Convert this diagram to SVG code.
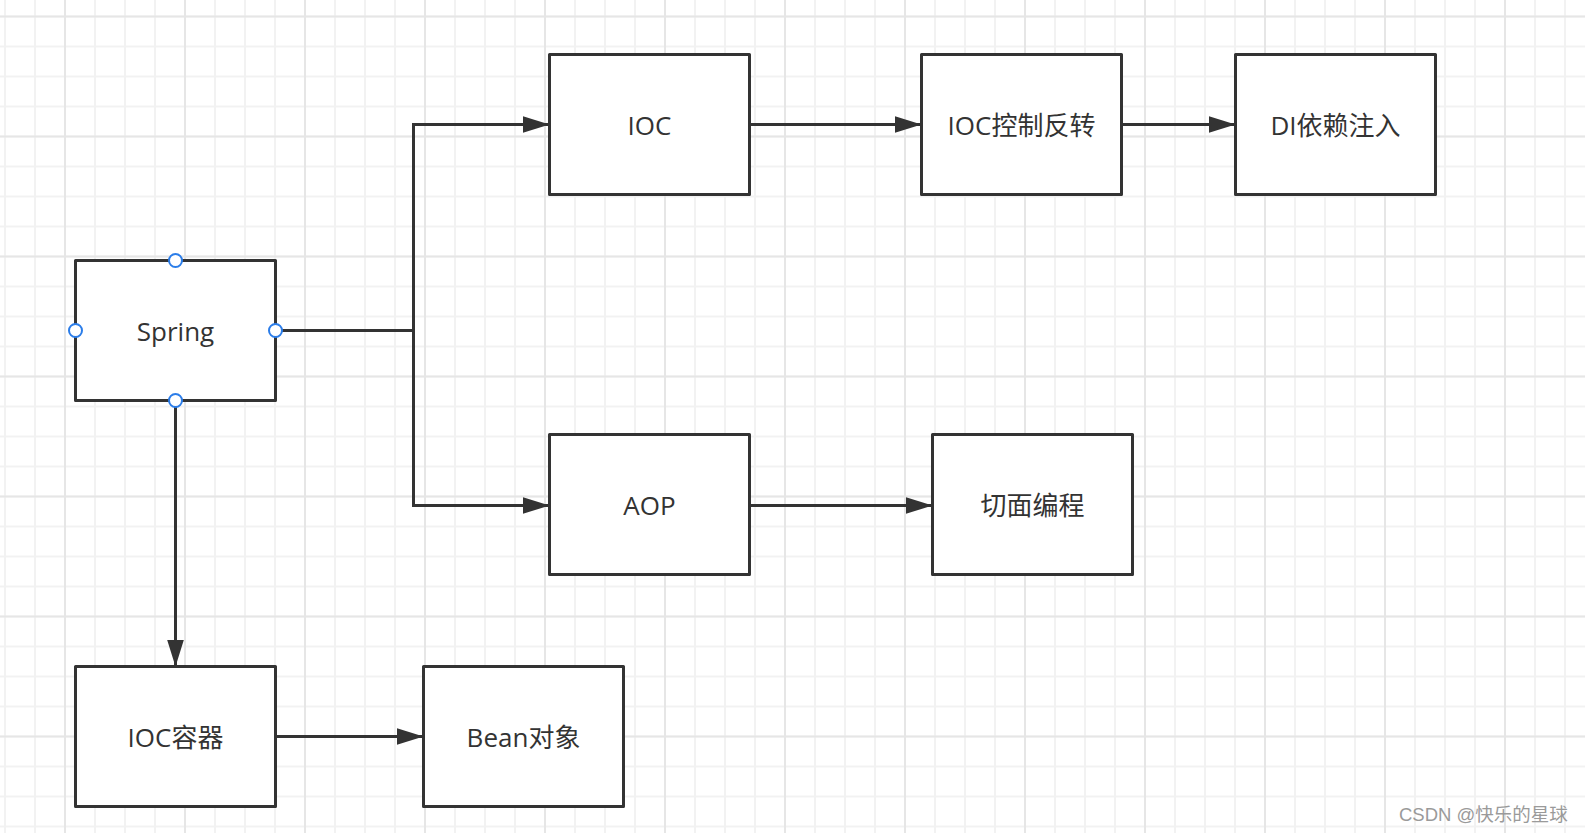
<svg xmlns="http://www.w3.org/2000/svg" width="1585" height="833" viewBox="0 0 1585 833">
  <defs>
    <pattern id="minor" width="30" height="30" patternUnits="userSpaceOnUse" x="-10" y="1.5">
      <path d="M15 0 V30 M0 15 H30" fill="none" stroke="#f2f2f2" stroke-width="2"/>
    </pattern>
    <pattern id="major" width="120" height="120" patternUnits="userSpaceOnUse" x="5" y="-43.5">
      <path d="M60 0 V120 M0 60 H120" fill="none" stroke="#e6e6e6" stroke-width="2"/>
    </pattern>
    <marker id="arrow" markerUnits="userSpaceOnUse" markerWidth="28" markerHeight="18" refX="27" refY="8.5" orient="auto">
      <path d="M0 0 L27 8.5 L0 17 Z" fill="#333333"/>
    </marker>
  </defs>
  <style>
    .box { fill: #ffffff; stroke: #333333; stroke-width: 3; stroke-linejoin: round; }
    .label { font-family: "Open Sans", "Noto Sans CJK SC", sans-serif; font-size: 26px; fill: #333333; text-anchor: middle; }
    .conn { fill: none; stroke: #333333; stroke-width: 3; }
    .handle { fill: #ffffff; stroke: #2b7de9; stroke-width: 2; }
    .wm { font-family: "Liberation Sans", "Noto Sans CJK SC", sans-serif; font-size: 18.5px; fill: #9a9a9a; }
  </style>
  <rect width="1585" height="833" fill="#ffffff"/>
  <rect width="1585" height="833" fill="url(#minor)"/>
  <rect width="1585" height="833" fill="url(#major)"/>

  <g id="connectors">
    <path class="conn" d="M275.5 330.5 H413.5"/>
    <path class="conn" d="M413.5 124.5 V505.5"/>
    <path class="conn" d="M412 124.5 H549.5" marker-end="url(#arrow)"/>
    <path class="conn" d="M412 505.5 H549.5" marker-end="url(#arrow)"/>
    <path class="conn" d="M749.5 124.5 H921.5" marker-end="url(#arrow)"/>
    <path class="conn" d="M1121.5 124.5 H1235.5" marker-end="url(#arrow)"/>
    <path class="conn" d="M749.5 505.5 H932.5" marker-end="url(#arrow)"/>
    <path class="conn" d="M175.5 400.5 V666.5" marker-end="url(#arrow)"/>
    <path class="conn" d="M275.5 736.5 H423.5" marker-end="url(#arrow)"/>
  </g>

  <g id="node-spring">
    <rect class="box" x="75.5" y="260.5" width="200" height="140"/>
    <text class="label" x="175.5" y="341">Spring</text>
    <circle class="handle" cx="175.5" cy="260.5" r="6.5"/>
    <circle class="handle" cx="75.5" cy="330.5" r="6.5"/>
    <circle class="handle" cx="275.5" cy="330.5" r="6.5"/>
    <circle class="handle" cx="175.5" cy="400.5" r="6.5"/>
  </g>
  <g id="node-ioc">
    <rect class="box" x="549.5" y="54.5" width="200" height="140"/>
    <text class="label" x="649.5" y="135">IOC</text>
  </g>
  <g id="node-ioc-inversion">
    <rect class="box" x="921.5" y="54.5" width="200" height="140"/>
    <text class="label" x="1021.5" y="135">IOC控制反转</text>
  </g>
  <g id="node-di">
    <rect class="box" x="1235.5" y="54.5" width="200" height="140"/>
    <text class="label" x="1335.5" y="135">DI依赖注入</text>
  </g>
  <g id="node-aop">
    <rect class="box" x="549.5" y="434.5" width="200" height="140"/>
    <text class="label" x="649.5" y="515">AOP</text>
  </g>
  <g id="node-aspect">
    <rect class="box" x="932.5" y="434.5" width="200" height="140"/>
    <text class="label" x="1032.5" y="515">切面编程</text>
  </g>
  <g id="node-ioc-container">
    <rect class="box" x="75.5" y="666.5" width="200" height="140"/>
    <text class="label" x="175.5" y="747">IOC容器</text>
  </g>
  <g id="node-bean">
    <rect class="box" x="423.5" y="666.5" width="200" height="140"/>
    <text class="label" x="523.5" y="747">Bean对象</text>
  </g>

  <text class="wm" x="1399" y="821">CSDN @快乐的星球</text>
</svg>
